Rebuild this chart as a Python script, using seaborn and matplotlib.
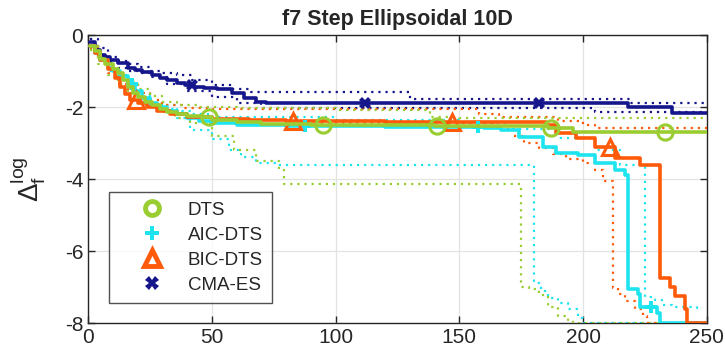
import numpy as np
import pandas as pd
import seaborn as sns
import matplotlib.pyplot as plt
from matplotlib.lines import Line2D

# run-length data (step-post): x = evaluations / D, y = log10 delta f
dts_x = [1, 3, 5, 7, 10, 12, 14, 16, 18, 20, 23, 26, 29, 32, 36, 40, 46, 50, 60, 70, 90, 140, 186, 196, 250]
dts_y = [-0.3, -0.45, -0.65, -0.8, -0.95, -1.06, -1.25, -1.44, -1.6, -1.72, -1.85, -1.94, -2.05, -2.14, -2.2, -2.24, -2.28, -2.35, -2.42, -2.47, -2.5, -2.52, -2.58, -2.68, -2.68]
dts_hi_x = [1, 4, 8, 12, 16, 20, 25, 30, 36, 45, 60, 100, 138, 150, 250]
dts_hi_y = [-0.3, -0.6, -0.9, -1.1, -1.3, -1.5, -1.7, -1.85, -1.95, -2.0, -2.03, -2.08, -2.27, -2.3, -2.3]
dts_lo_x = [1, 4, 8, 12, 16, 20, 25, 30, 35, 41, 50, 59, 68, 77, 79, 175, 178, 182, 186, 190, 194, 196, 250]
dts_lo_y = [-0.4, -0.8, -1.1, -1.35, -1.6, -1.8, -2.0, -2.15, -2.3, -2.45, -2.8, -3.2, -3.5, -3.75, -4.14, -7.0, -7.05, -7.22, -7.55, -7.8, -7.92, -8.0, -8.0]

aic_x = [1, 3, 5, 8, 10, 13, 16, 19, 22, 25, 28, 32, 36, 40, 45, 50, 60, 80, 120, 160, 167, 174, 184, 189, 198, 205, 213, 217, 218, 222, 223, 230, 231, 250]
aic_y = [-0.3, -0.5, -0.7, -0.9, -1.0, -1.15, -1.35, -1.55, -1.75, -1.9, -2.0, -2.1, -2.2, -2.3, -2.4, -2.45, -2.5, -2.53, -2.55, -2.58, -2.64, -2.82, -3.1, -3.28, -3.33, -3.56, -3.76, -3.9, -7.05, -7.2, -7.55, -7.73, -8.0, -8.0]
aic_hi_x = [1, 4, 8, 12, 16, 20, 25, 30, 36, 42, 50, 100, 150, 170, 190, 205, 215, 225, 229, 232, 236, 246]
aic_hi_y = [-0.3, -0.6, -0.9, -1.15, -1.4, -1.6, -1.8, -1.95, -2.1, -2.2, -2.27, -2.35, -2.45, -2.6, -2.85, -3.2, -3.6, -7.27, -7.35, -7.5, -7.55, -7.6]
aic_lo_x = [1, 4, 8, 12, 16, 20, 25, 30, 36, 41, 50, 57, 62, 68, 76, 180, 183, 186, 190, 194, 198, 200, 250]
aic_lo_y = [-0.35, -0.7, -1.0, -1.25, -1.5, -1.7, -1.9, -2.05, -2.3, -2.64, -2.9, -3.2, -3.4, -3.55, -3.61, -6.9, -7.1, -7.3, -7.45, -7.6, -7.85, -8.0, -8.0]

bic_x = [1, 3, 5, 8, 11, 13, 15, 17, 20, 24, 28, 33, 40, 50, 65, 80, 120, 185, 189, 197, 205, 213, 223, 231, 235, 237, 241, 242, 250]
bic_y = [-0.3, -0.5, -0.7, -0.95, -1.2, -1.45, -1.65, -1.8, -1.9, -2.0, -2.1, -2.2, -2.27, -2.32, -2.36, -2.38, -2.41, -2.5, -2.72, -2.87, -3.1, -3.42, -3.61, -6.75, -7.0, -7.25, -7.6, -8.0, -8.0]
bic_hi_x = [1, 4, 8, 12, 16, 20, 25, 30, 38, 50, 70, 150, 158, 166, 190, 200, 205, 250]
bic_hi_y = [-0.3, -0.6, -0.9, -1.15, -1.4, -1.6, -1.8, -1.95, -2.02, -2.06, -2.06, -2.06, -2.2, -2.28, -2.4, -2.5, -2.58, -2.58]
bic_lo_x = [1, 4, 8, 12, 16, 20, 25, 30, 38, 50, 80, 165, 172, 176, 182, 188, 193, 200, 205, 208, 212, 214, 217, 221, 224, 226, 250]
bic_lo_y = [-0.35, -0.7, -1.05, -1.35, -1.6, -1.85, -2.0, -2.1, -2.25, -2.35, -2.45, -2.6, -2.8, -3.0, -3.15, -3.3, -3.45, -3.55, -3.75, -4.05, -7.03, -7.2, -7.4, -7.6, -7.8, -8.0, -8.0]

cma_x = [1, 3, 5, 7, 9, 12, 16, 19, 22, 26, 29, 32, 36, 39, 43, 47, 52, 58, 63, 68, 72, 218, 236, 250]
cma_y = [-0.2, -0.4, -0.55, -0.62, -0.7, -0.78, -0.9, -0.97, -1.03, -1.11, -1.18, -1.25, -1.32, -1.39, -1.43, -1.47, -1.5, -1.6, -1.75, -1.85, -1.9, -2.0, -2.17, -2.17]
cma_hi_x = [1, 4, 8, 12, 16, 20, 25, 30, 36, 42, 50, 58, 66, 130, 219, 250]
cma_hi_y = [-0.1, -0.35, -0.6, -0.72, -0.8, -0.88, -1.0, -1.05, -1.12, -1.25, -1.4, -1.5, -1.58, -1.77, -1.9, -1.9]
cma_lo_x = [1, 4, 8, 12, 16, 20, 25, 32, 40, 50, 60, 70, 205, 250]
cma_lo_y = [-0.3, -0.55, -0.75, -0.9, -1.0, -1.05, -1.16, -1.35, -1.55, -1.72, -1.9, -2.03, -2.14, -2.14]

# marker positions along the median lines
dts_marks = [49, 95, 141, 187, 233]
aic_marks = [17.6, 87.6, 157.6, 227.6]
bic_marks = [19.5, 83, 147, 211]
cma_marks = [42, 112, 182]

labels = ['DTS', 'AIC-DTS', 'BIC-DTS', 'CMA-ES']
colors = ['#9acd32', '#1de4ef', '#ff5a0a', '#16168c']

sns.set_style('ticks')
plt.rcParams['font.family'] = ['Liberation Sans', 'DejaVu Sans']
plt.rcParams['mathtext.fontset'] = 'custom'
plt.rcParams['mathtext.rm'] = 'Liberation Sans'
plt.rcParams['mathtext.it'] = 'Liberation Sans'
plt.rcParams['axes.unicode_minus'] = False

fig, ax = plt.subplots(figsize=(7.25, 3.62), dpi=100)
fig.subplots_adjust(left=0.1214, right=0.975, bottom=0.1077, top=0.903)


def step_at(xs, ys, x):
    i = np.searchsorted(xs, x, side='right') - 1
    return ys[max(i, 0)]


series = [
    (dts_x, dts_y, dts_hi_x, dts_hi_y, dts_lo_x, dts_lo_y, dts_marks, 'o'),
    (aic_x, aic_y, aic_hi_x, aic_hi_y, aic_lo_x, aic_lo_y, aic_marks, 'P'),
    (bic_x, bic_y, bic_hi_x, bic_hi_y, bic_lo_x, bic_lo_y, bic_marks, '^'),
    (cma_x, cma_y, cma_hi_x, cma_hi_y, cma_lo_x, cma_lo_y, cma_marks, 'X'),
]
zorders = [8, 6, 7, 5]

for k in [3, 2, 1, 0]:
    mx, my, hx, hy, lx, ly, marks, mk = series[k]
    c = colors[k]
    # quartile lines (dotted)
    for xs, ys in [(hx, hy), (lx, ly)]:
        sns.lineplot(x=xs, y=ys, ax=ax, color=c, estimator=None, sort=False,
                     drawstyle='steps-post', linestyle=(0, (1, 2.2)), linewidth=1.6,
                     zorder=zorders[k] - 4)
    # median line
    sns.lineplot(x=mx, y=my, ax=ax, color=c, estimator=None, sort=False,
                 drawstyle='steps-post', linewidth=2.6, zorder=zorders[k])
    mys = [step_at(mx, my, m) for m in marks]
    if mk in ['o', '^']:
        ax.plot(marks, mys, linestyle='none', marker=mk, markersize=11,
                markerfacecolor='none', markeredgecolor=c, markeredgewidth=2.2,
                zorder=zorders[k] + 1)
    else:
        ax.plot(marks, mys, linestyle='none', marker=mk, markersize=9,
                color=c, markeredgewidth=0, zorder=zorders[k] + 1)

ax.set_xlim(0, 250)
ax.set_ylim(-8, 0)
ax.set_xticks([0, 50, 100, 150, 200, 250])
ax.set_yticks([0, -2, -4, -6, -8])
ax.grid(True, color='#e3e3e3', linewidth=0.9)
ax.tick_params(direction='in', length=5, top=True, right=True, labelsize=15,
               colors='#262626', width=1)
for s in ax.spines.values():
    s.set_color('#262626')
    s.set_linewidth(1.0)

ax.set_title('f7 Step Ellipsoidal 10D', fontsize=15.5, fontweight='bold', pad=7)
ax.set_ylabel(r'$\Delta_f^{\rm log}$', fontsize=20, labelpad=12)

handles = []
for k in range(4):
    mk = series[k][7]
    if mk == 'o':
        h = Line2D([], [], linestyle='none', marker=mk, markersize=10,
                   markerfacecolor='none', markeredgecolor=colors[k], markeredgewidth=3.5)
    elif mk == '^':
        h = Line2D([], [], linestyle='none', marker=mk, markersize=12,
                   markerfacecolor='none', markeredgecolor=colors[k], markeredgewidth=3.5)
    else:
        h = Line2D([], [], linestyle='none', marker=mk, markersize=10,
                   color=colors[k], markeredgewidth=0)
    handles.append(h)
leg = ax.legend(handles, labels, loc='upper left', bbox_to_anchor=(0.034, 0.455),
                borderaxespad=0, fontsize=13.5, frameon=True, fancybox=False,
                edgecolor='#262626', handletextpad=0.1, handlelength=3.6,
                labelspacing=0.42, borderpad=0.5)
leg.get_frame().set_linewidth(1.0)
leg.set_zorder(20)

fig.savefig('out.png', dpi=100)
